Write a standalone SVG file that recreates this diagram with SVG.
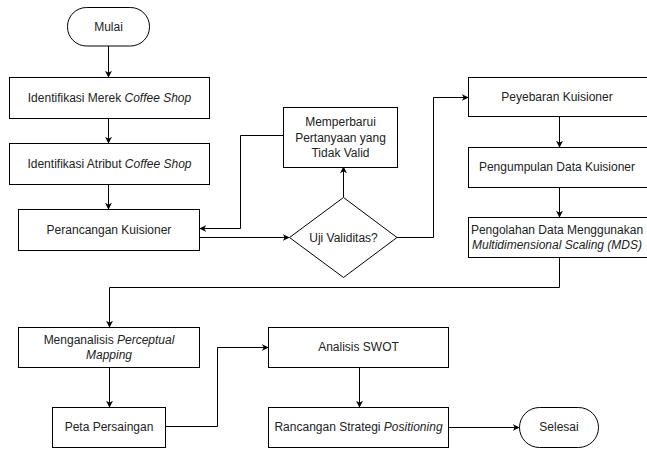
<svg xmlns="http://www.w3.org/2000/svg" width="647" height="450" viewBox="0 0 647 450">
<defs>
<marker id="ah" viewBox="0 0 10 10" refX="9" refY="5" markerWidth="7" markerHeight="7" orient="auto" markerUnits="userSpaceOnUse">
<path d="M0,0 L10,5 L0,10 L3,5 Z" fill="#000"/>
</marker>
<style>
.s{fill:#fff;stroke:#000;stroke-width:1}
.t{font-family:"Liberation Sans",Arial,sans-serif;font-size:12px;fill:#222;text-anchor:middle;dominant-baseline:central}
.i{font-style:italic}
.c{fill:none;stroke:#000;stroke-width:1;marker-end:url(#ah)}
</style>
</defs>
<rect width="647" height="450" fill="#fff"/>
<g id="connectors">
<path class="c" d="M108.5,46 V77"/>
<path class="c" d="M108.5,118 V143"/>
<path class="c" d="M108.5,185 V209"/>
<path class="c" d="M200,237.5 H289"/>
<path class="c" d="M283,135.5 H240.5 V228.5 H200"/>
<path class="c" d="M343.5,197 V167"/>
<path class="c" d="M397,237.5 H433.5 V97.5 H468"/>
<path class="c" d="M559.5,116 V147"/>
<path class="c" d="M559.5,187 V217"/>
<path class="c" d="M559.5,257 V287.5 H109.5 V327"/>
<path class="c" d="M109.5,367 V407"/>
<path class="c" d="M166,426.5 H217.5 V347.5 H268"/>
<path class="c" d="M359.5,367 V407"/>
<path class="c" d="M449,427.5 H519"/>
</g>
<g id="mulai"><rect class="s" x="67.5" y="7.5" width="82" height="38.5" rx="19" ry="19"/><text class="t" x="108.5" y="26.5">Mulai</text></g>
<g id="merek"><rect class="s" x="9.5" y="77.5" width="200" height="41"/><text class="t" x="109.5" y="98">Identifikasi Merek <tspan class="i">Coffee Shop</tspan></text></g>
<g id="atribut"><rect class="s" x="9.5" y="143.5" width="200" height="41"/><text class="t" x="109.5" y="164">Identifikasi Atribut <tspan class="i">Coffee Shop</tspan></text></g>
<g id="perancangan"><rect class="s" x="18.5" y="209.5" width="181" height="41"/><text class="t" x="109" y="230">Perancangan Kuisioner</text></g>
<g id="memperbarui"><rect class="s" x="283.5" y="107.5" width="114" height="60"/><text class="t" x="340.5" y="122">Memperbarui</text><text class="t" x="340.5" y="137.5">Pertanyaan yang</text><text class="t" x="340.5" y="153">Tidak Valid</text></g>
<g id="uji"><path class="s" d="M343.5,197.5 L397,237.5 L343.5,277.5 L289.5,237.5 Z"/><text class="t" x="343.5" y="237.5">Uji Validitas?</text></g>
<g id="peyebaran"><rect class="s" x="468.5" y="77.5" width="184" height="39"/><text class="t" x="557" y="97">Peyebaran Kuisioner</text></g>
<g id="pengumpulan"><rect class="s" x="468.5" y="147.5" width="184" height="40"/><text class="t" x="557" y="167">Pengumpulan Data Kuisioner</text></g>
<g id="pengolahan"><rect class="s" x="468.5" y="217.5" width="184" height="40"/><text class="t" x="557" y="230">Pengolahan Data Menggunakan</text><text class="t i" x="557" y="245">Multidimensional Scaling (MDS)</text></g>
<g id="menganalisis"><rect class="s" x="18.5" y="327.5" width="181" height="40"/><text class="t" x="109" y="340">Menganalisis <tspan class="i">Perceptual</tspan></text><text class="t i" x="109" y="355">Mapping</text></g>
<g id="peta"><rect class="s" x="52.5" y="407.5" width="113" height="40"/><text class="t" x="109" y="427">Peta Persaingan</text></g>
<g id="swot"><rect class="s" x="268.5" y="327.5" width="180" height="40"/><text class="t" x="358.5" y="347">Analisis SWOT</text></g>
<g id="rancangan"><rect class="s" x="268.5" y="407.5" width="180" height="40"/><text class="t" x="358.5" y="427">Rancangan Strategi <tspan class="i">Positioning</tspan></text></g>
<g id="selesai"><rect class="s" x="519.5" y="407.5" width="79" height="40" rx="20" ry="20"/><text class="t" x="559" y="427">Selesai</text></g>
</svg>
